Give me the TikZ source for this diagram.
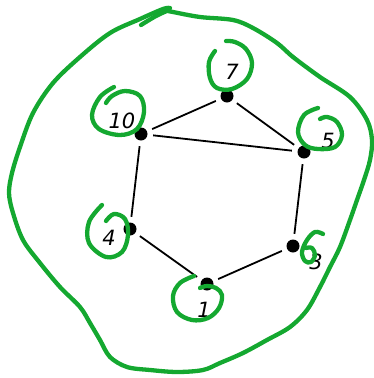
\documentclass[tikz,border=0pt]{standalone}
\usepackage{fontspec}
\newfontfamily\labfont{DejaVu Sans}
\definecolor{pen}{RGB}{20,168,48}
\begin{document}
\begin{tikzpicture}[x=1pt,y=-1pt,
  vtx/.style={circle,minimum size=24pt,inner sep=0pt,
    path picture={\fill[black] (path picture bounding box.center) circle (6.5pt);}},
  lab/.style={inner sep=0pt,font=\labfont\itshape\fontsize{21}{21}\selectfont},
  edge/.style={line width=1.8pt,black},
  ink/.style={pen,line width=4.3pt,line cap=round,line join=round}]
\useasboundingbox (0,0) rectangle (374,378);
% vertices
\node[vtx] (n7) at (227,96) {};
\node[vtx] (n10) at (141,134) {};
\node[vtx] (n5) at (304,152) {};
\node[vtx] (n4) at (130,229) {};
\node[vtx] (n3) at (293,246) {};
\node[vtx] (n1) at (207,284) {};
% labels
\node[lab] (l7) at (232,72) {7};
\node[lab] (l10) at (122,121) {10};
\node[lab] (l5) at (328,141) {5};
\node[lab] (l4) at (109,238) {4};
\node[lab] (l3) at (316,262) {3};
\node[lab] (l1) at (204,310) {1};
% edges
\draw[edge] (n10) -- (n7);
\draw[edge] (n7) -- (n5);
\draw[edge] (n10) -- (n5);
\draw[edge] (n10) -- (n4);
\draw[edge] (n5) -- (n3);
\draw[edge] (n4) -- (n1);
\draw[edge] (n1) -- (n3);
% green ink: outer loop
\draw[ink] plot[smooth,tension=0.55] coordinates {
 (163,10) (173,12) (200,17) (233,20) (253,28) (277,43) (293,57) (320,77) (350,97)
 (367,120) (372,140) (370,160) (364,180) (357,200) (350,220) (340,247) (330,267)
 (320,287) (307,310) (290,327) (267,340) (243,353) (220,363) (203,370) (177,372)
 (150,370) (127,367) (110,357) (100,340) (90,323) (80,307) (60,287) (40,263)
 (23,240) (13,213) (9,193) (12,173) (20,147) (33,113) (53,83) (80,57) (110,33)
 (140,19) (163,9) (170,8)};
\draw[ink] plot[smooth,tension=0.6] coordinates {(141,25) (156,16) (169,10)};
% green ink: hooks round labels
\draw[ink] plot[smooth,tension=0.6] coordinates {(215,51) (209,62) (210,78) (217,88) (232,89) (247,79) (252,63) (246,49) (235,42) (226,41)};
\draw[ink] plot[smooth,tension=0.6] coordinates {(114,87) (100,97) (92,115) (99,129) (120,135) (137,129) (144,112) (140,96) (125,91) (112,96) (106,103)};
\draw[ink] plot[smooth,tension=0.6] coordinates {(318,108) (304,115) (298,132) (305,145) (318,149) (335,147) (342,135) (337,122) (327,117) (320,119)};
\draw[ink] plot[smooth,tension=0.6] coordinates {(102,205) (89,222) (89,243) (106,257) (122,252) (128,235) (125,219) (114,214) (106,221)};
\draw[ink] plot[smooth,tension=0.6] coordinates {(323,234) (315,232) (307,240) (302,252) (305,261) (311,262) (315,255) (312,248) (306,248)};
\draw[ink] plot[smooth,tension=0.6] coordinates {(194,276) (180,283) (173,296) (177,312) (192,320) (208,318) (219,308) (222,295) (216,288) (207,286) (200,288)};
\end{tikzpicture}
\end{document}
